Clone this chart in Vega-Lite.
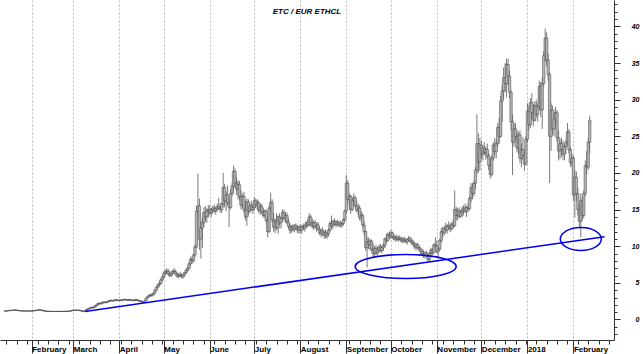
{
"$schema":"https://vega.github.io/schema/vega-lite/v6.json",
"width":614,"height":340,
"autosize":{"type":"none"},
"padding":{"left":0,"top":0,"right":29,"bottom":14},
"background":"white",
"title":{"text":"ETC / EUR ETHCL","fontSize":8,"font":"Liberation Sans","fontStyle":"italic","fontWeight":"bold","color":"#000","anchor":"middle","offset":-16},
"config":{"view":{"stroke":null},"axis":{"labelFont":"Liberation Sans"}},
"datasets":{
"t":[{"d":"2017-03-09","v":1.1},{"d":"2018-02-22","v":11.3}],
"e1":[{"d":"2017-10-11","v":7.24}],
"e2":[{"d":"2018-02-06","v":10.99}],
"p":[
{"d":"2017-01-14","o":1.15,"h":1.2,"l":1.1,"c":1.15},
{"d":"2017-01-15","o":1.15,"h":1.2,"l":1.12,"c":1.17},
{"d":"2017-01-16","o":1.17,"h":1.22,"l":1.14,"c":1.2},
{"d":"2017-01-17","o":1.2,"h":1.28,"l":1.18,"c":1.25},
{"d":"2017-01-18","o":1.25,"h":1.3,"l":1.2,"c":1.22},
{"d":"2017-01-19","o":1.22,"h":1.28,"l":1.18,"c":1.26},
{"d":"2017-01-20","o":1.26,"h":1.33,"l":1.22,"c":1.3},
{"d":"2017-01-21","o":1.3,"h":1.35,"l":1.25,"c":1.28},
{"d":"2017-01-22","o":1.28,"h":1.32,"l":1.22,"c":1.24},
{"d":"2017-01-23","o":1.24,"h":1.28,"l":1.18,"c":1.2},
{"d":"2017-01-24","o":1.2,"h":1.24,"l":1.15,"c":1.18},
{"d":"2017-01-25","o":1.18,"h":1.22,"l":1.14,"c":1.17},
{"d":"2017-01-26","o":1.17,"h":1.2,"l":1.13,"c":1.16},
{"d":"2017-01-27","o":1.16,"h":1.2,"l":1.12,"c":1.15},
{"d":"2017-01-28","o":1.15,"h":1.19,"l":1.12,"c":1.16},
{"d":"2017-01-29","o":1.16,"h":1.2,"l":1.13,"c":1.17},
{"d":"2017-01-30","o":1.17,"h":1.2,"l":1.13,"c":1.15},
{"d":"2017-01-31","o":1.15,"h":1.19,"l":1.12,"c":1.16},
{"d":"2017-02-01","o":1.16,"h":1.2,"l":1.13,"c":1.17},
{"d":"2017-02-02","o":1.17,"h":1.21,"l":1.14,"c":1.18},
{"d":"2017-02-03","o":1.18,"h":1.24,"l":1.16,"c":1.22},
{"d":"2017-02-04","o":1.22,"h":1.28,"l":1.2,"c":1.26},
{"d":"2017-02-05","o":1.26,"h":1.32,"l":1.22,"c":1.3},
{"d":"2017-02-06","o":1.3,"h":1.36,"l":1.26,"c":1.32},
{"d":"2017-02-07","o":1.32,"h":1.36,"l":1.24,"c":1.27},
{"d":"2017-02-08","o":1.27,"h":1.3,"l":1.2,"c":1.22},
{"d":"2017-02-09","o":1.22,"h":1.25,"l":1.15,"c":1.17},
{"d":"2017-02-10","o":1.17,"h":1.2,"l":1.12,"c":1.14},
{"d":"2017-02-11","o":1.14,"h":1.17,"l":1.1,"c":1.12},
{"d":"2017-02-12","o":1.12,"h":1.15,"l":1.09,"c":1.11},
{"d":"2017-02-13","o":1.11,"h":1.14,"l":1.08,"c":1.1},
{"d":"2017-02-14","o":1.1,"h":1.14,"l":1.07,"c":1.12},
{"d":"2017-02-15","o":1.12,"h":1.15,"l":1.08,"c":1.1},
{"d":"2017-02-16","o":1.1,"h":1.13,"l":1.07,"c":1.09},
{"d":"2017-02-17","o":1.09,"h":1.12,"l":1.06,"c":1.1},
{"d":"2017-02-18","o":1.1,"h":1.13,"l":1.07,"c":1.11},
{"d":"2017-02-19","o":1.11,"h":1.14,"l":1.08,"c":1.1},
{"d":"2017-02-20","o":1.1,"h":1.13,"l":1.07,"c":1.09},
{"d":"2017-02-21","o":1.09,"h":1.12,"l":1.06,"c":1.1},
{"d":"2017-02-22","o":1.1,"h":1.13,"l":1.07,"c":1.11},
{"d":"2017-02-23","o":1.11,"h":1.14,"l":1.08,"c":1.12},
{"d":"2017-02-24","o":1.12,"h":1.15,"l":1.09,"c":1.11},
{"d":"2017-02-25","o":1.11,"h":1.14,"l":1.08,"c":1.12},
{"d":"2017-02-26","o":1.12,"h":1.16,"l":1.1,"c":1.14},
{"d":"2017-02-27","o":1.14,"h":1.2,"l":1.12,"c":1.18},
{"d":"2017-02-28","o":1.18,"h":1.25,"l":1.15,"c":1.22},
{"d":"2017-03-01","o":1.22,"h":1.3,"l":1.18,"c":1.26},
{"d":"2017-03-02","o":1.26,"h":1.32,"l":1.22,"c":1.28},
{"d":"2017-03-03","o":1.28,"h":1.33,"l":1.22,"c":1.25},
{"d":"2017-03-04","o":1.25,"h":1.3,"l":1.2,"c":1.27},
{"d":"2017-03-05","o":1.27,"h":1.32,"l":1.22,"c":1.24},
{"d":"2017-03-06","o":1.24,"h":1.28,"l":1.15,"c":1.18},
{"d":"2017-03-07","o":1.18,"h":1.22,"l":1.08,"c":1.12},
{"d":"2017-03-08","o":1.12,"h":1.16,"l":1.02,"c":1.08},
{"d":"2017-03-09","o":1.08,"h":1.25,"l":1.05,"c":1.22},
{"d":"2017-03-10","o":1.22,"h":1.4,"l":1.2,"c":1.36},
{"d":"2017-03-11","o":1.36,"h":1.52,"l":1.32,"c":1.48},
{"d":"2017-03-12","o":1.48,"h":1.62,"l":1.4,"c":1.55},
{"d":"2017-03-13","o":1.55,"h":1.72,"l":1.5,"c":1.66},
{"d":"2017-03-14","o":1.66,"h":1.75,"l":1.52,"c":1.6},
{"d":"2017-03-15","o":1.6,"h":1.78,"l":1.55,"c":1.74},
{"d":"2017-03-16","o":1.74,"h":1.95,"l":1.7,"c":1.9},
{"d":"2017-03-17","o":1.9,"h":2.15,"l":1.85,"c":2.1},
{"d":"2017-03-18","o":2.1,"h":2.3,"l":1.95,"c":2.2},
{"d":"2017-03-19","o":2.2,"h":2.35,"l":2.05,"c":2.15},
{"d":"2017-03-20","o":2.15,"h":2.3,"l":2.05,"c":2.25},
{"d":"2017-03-21","o":2.25,"h":2.45,"l":2.18,"c":2.38},
{"d":"2017-03-22","o":2.38,"h":2.5,"l":2.25,"c":2.3},
{"d":"2017-03-23","o":2.3,"h":2.42,"l":2.2,"c":2.36},
{"d":"2017-03-24","o":2.36,"h":2.5,"l":2.28,"c":2.45},
{"d":"2017-03-25","o":2.45,"h":2.62,"l":2.38,"c":2.55},
{"d":"2017-03-26","o":2.55,"h":2.7,"l":2.45,"c":2.6},
{"d":"2017-03-27","o":2.6,"h":2.72,"l":2.48,"c":2.52},
{"d":"2017-03-28","o":2.52,"h":2.65,"l":2.42,"c":2.58},
{"d":"2017-03-29","o":2.58,"h":2.75,"l":2.5,"c":2.68},
{"d":"2017-03-30","o":2.68,"h":2.8,"l":2.55,"c":2.62},
{"d":"2017-03-31","o":2.62,"h":2.75,"l":2.5,"c":2.58},
{"d":"2017-04-01","o":2.58,"h":2.72,"l":2.5,"c":2.65},
{"d":"2017-04-02","o":2.65,"h":2.78,"l":2.55,"c":2.6},
{"d":"2017-04-03","o":2.6,"h":2.72,"l":2.5,"c":2.68},
{"d":"2017-04-04","o":2.68,"h":2.8,"l":2.6,"c":2.74},
{"d":"2017-04-05","o":2.74,"h":2.85,"l":2.62,"c":2.7},
{"d":"2017-04-06","o":2.7,"h":2.8,"l":2.58,"c":2.64},
{"d":"2017-04-07","o":2.64,"h":2.76,"l":2.55,"c":2.7},
{"d":"2017-04-08","o":2.7,"h":2.82,"l":2.6,"c":2.66},
{"d":"2017-04-09","o":2.66,"h":2.76,"l":2.55,"c":2.62},
{"d":"2017-04-10","o":2.62,"h":2.72,"l":2.5,"c":2.58},
{"d":"2017-04-11","o":2.58,"h":2.7,"l":2.48,"c":2.65},
{"d":"2017-04-12","o":2.65,"h":2.78,"l":2.55,"c":2.7},
{"d":"2017-04-13","o":2.7,"h":2.8,"l":2.55,"c":2.6},
{"d":"2017-04-14","o":2.6,"h":2.7,"l":2.45,"c":2.52},
{"d":"2017-04-15","o":2.52,"h":2.62,"l":2.4,"c":2.48},
{"d":"2017-04-16","o":2.48,"h":2.58,"l":2.32,"c":2.4},
{"d":"2017-04-17","o":2.4,"h":2.5,"l":2.25,"c":2.35},
{"d":"2017-04-18","o":2.35,"h":2.6,"l":2.3,"c":2.55},
{"d":"2017-04-19","o":2.55,"h":2.95,"l":2.5,"c":2.9},
{"d":"2017-04-20","o":2.9,"h":3.2,"l":2.85,"c":3.1},
{"d":"2017-04-21","o":3.1,"h":3.4,"l":3.0,"c":3.3},
{"d":"2017-04-22","o":3.3,"h":3.55,"l":3.15,"c":3.25},
{"d":"2017-04-23","o":3.25,"h":3.45,"l":3.1,"c":3.4},
{"d":"2017-04-24","o":3.4,"h":3.7,"l":3.3,"c":3.6},
{"d":"2017-04-25","o":3.6,"h":4.1,"l":3.5,"c":4.0},
{"d":"2017-04-26","o":4.0,"h":4.5,"l":3.9,"c":4.4},
{"d":"2017-04-27","o":4.4,"h":4.9,"l":4.2,"c":4.7},
{"d":"2017-04-28","o":4.7,"h":5.2,"l":4.5,"c":4.9},
{"d":"2017-04-29","o":4.9,"h":5.6,"l":4.8,"c":5.4},
{"d":"2017-04-30","o":5.4,"h":6.0,"l":5.2,"c":5.8},
{"d":"2017-05-01","o":5.8,"h":6.6,"l":5.6,"c":6.3},
{"d":"2017-05-02","o":6.3,"h":6.8,"l":6.0,"c":6.5},
{"d":"2017-05-03","o":6.5,"h":7.0,"l":6.2,"c":6.6},
{"d":"2017-05-04","o":6.6,"h":6.9,"l":6.0,"c":6.2},
{"d":"2017-05-05","o":6.2,"h":6.6,"l":5.8,"c":6.0},
{"d":"2017-05-06","o":6.0,"h":6.5,"l":5.8,"c":6.3},
{"d":"2017-05-07","o":6.3,"h":6.8,"l":6.1,"c":6.6},
{"d":"2017-05-08","o":6.6,"h":7.0,"l":6.3,"c":6.5},
{"d":"2017-05-09","o":6.5,"h":6.8,"l":6.0,"c":6.2},
{"d":"2017-05-10","o":6.2,"h":6.4,"l":5.7,"c":5.9},
{"d":"2017-05-11","o":5.9,"h":6.3,"l":5.6,"c":6.1},
{"d":"2017-05-12","o":6.1,"h":6.5,"l":5.8,"c":6.0},
{"d":"2017-05-13","o":6.0,"h":6.3,"l":5.6,"c":5.8},
{"d":"2017-05-14","o":5.8,"h":6.2,"l":5.6,"c":6.1},
{"d":"2017-05-15","o":6.1,"h":6.5,"l":5.9,"c":6.4},
{"d":"2017-05-16","o":6.4,"h":6.9,"l":6.2,"c":6.7},
{"d":"2017-05-17","o":6.7,"h":7.2,"l":6.5,"c":7.0},
{"d":"2017-05-18","o":7.0,"h":7.8,"l":6.8,"c":7.6},
{"d":"2017-05-19","o":7.6,"h":8.5,"l":7.3,"c":8.2},
{"d":"2017-05-20","o":8.2,"h":8.6,"l":7.6,"c":8.0},
{"d":"2017-05-21","o":8.0,"h":9.0,"l":7.8,"c":8.8},
{"d":"2017-05-22","o":8.8,"h":10.2,"l":8.5,"c":9.9},
{"d":"2017-05-23","o":9.9,"h":15.5,"l":9.7,"c":14.8},
{"d":"2017-05-24","o":14.8,"h":19.9,"l":13.8,"c":15.5},
{"d":"2017-05-25","o":15.5,"h":16.5,"l":9.5,"c":11.0},
{"d":"2017-05-26","o":11.0,"h":13.5,"l":8.3,"c":12.5},
{"d":"2017-05-27","o":12.5,"h":14.0,"l":9.8,"c":13.2},
{"d":"2017-05-28","o":13.2,"h":15.3,"l":12.6,"c":14.6},
{"d":"2017-05-29","o":14.6,"h":15.5,"l":13.4,"c":14.0},
{"d":"2017-05-30","o":14.0,"h":15.2,"l":13.2,"c":14.8},
{"d":"2017-05-31","o":14.8,"h":15.6,"l":13.9,"c":15.0},
{"d":"2017-06-01","o":15.0,"h":15.6,"l":14.2,"c":14.6},
{"d":"2017-06-02","o":14.6,"h":15.2,"l":14.0,"c":14.9},
{"d":"2017-06-03","o":14.9,"h":15.5,"l":14.4,"c":15.2},
{"d":"2017-06-04","o":15.2,"h":15.7,"l":14.6,"c":14.8},
{"d":"2017-06-05","o":14.8,"h":15.4,"l":14.3,"c":15.1},
{"d":"2017-06-06","o":15.1,"h":15.8,"l":14.7,"c":15.4},
{"d":"2017-06-07","o":15.4,"h":16.6,"l":15.0,"c":15.2},
{"d":"2017-06-08","o":15.2,"h":15.8,"l":14.6,"c":15.0},
{"d":"2017-06-09","o":15.0,"h":16.0,"l":14.5,"c":15.8},
{"d":"2017-06-10","o":15.8,"h":20.0,"l":15.3,"c":18.0},
{"d":"2017-06-11","o":18.0,"h":18.5,"l":15.3,"c":16.2},
{"d":"2017-06-12","o":16.2,"h":17.5,"l":14.8,"c":17.0},
{"d":"2017-06-13","o":17.0,"h":18.3,"l":15.6,"c":15.9},
{"d":"2017-06-14","o":15.9,"h":16.5,"l":12.6,"c":15.3},
{"d":"2017-06-15","o":15.3,"h":17.8,"l":15.0,"c":17.2},
{"d":"2017-06-16","o":17.2,"h":18.6,"l":16.8,"c":18.2},
{"d":"2017-06-17","o":18.2,"h":21.0,"l":17.2,"c":20.2},
{"d":"2017-06-18","o":20.2,"h":20.6,"l":18.0,"c":18.6},
{"d":"2017-06-19","o":18.6,"h":19.4,"l":17.0,"c":17.8},
{"d":"2017-06-20","o":17.8,"h":19.0,"l":16.4,"c":18.4},
{"d":"2017-06-21","o":18.4,"h":18.9,"l":16.2,"c":16.8},
{"d":"2017-06-22","o":16.8,"h":17.6,"l":15.0,"c":15.6},
{"d":"2017-06-23","o":15.6,"h":17.2,"l":15.2,"c":16.8},
{"d":"2017-06-24","o":16.8,"h":17.4,"l":14.6,"c":15.0},
{"d":"2017-06-25","o":15.0,"h":16.2,"l":13.5,"c":14.0},
{"d":"2017-06-26","o":14.0,"h":16.5,"l":12.8,"c":16.0},
{"d":"2017-06-27","o":16.0,"h":16.4,"l":14.2,"c":14.8},
{"d":"2017-06-28","o":14.8,"h":15.8,"l":14.5,"c":15.5},
{"d":"2017-06-29","o":15.5,"h":16.2,"l":14.8,"c":15.0},
{"d":"2017-06-30","o":15.0,"h":15.8,"l":14.4,"c":15.3},
{"d":"2017-07-01","o":15.3,"h":16.7,"l":14.8,"c":16.2},
{"d":"2017-07-02","o":16.2,"h":16.5,"l":15.2,"c":15.6},
{"d":"2017-07-03","o":15.6,"h":16.4,"l":14.9,"c":15.9},
{"d":"2017-07-04","o":15.9,"h":16.2,"l":14.5,"c":14.9},
{"d":"2017-07-05","o":14.9,"h":15.8,"l":14.3,"c":15.4},
{"d":"2017-07-06","o":15.4,"h":15.8,"l":14.4,"c":14.7},
{"d":"2017-07-07","o":14.7,"h":15.2,"l":13.9,"c":14.2},
{"d":"2017-07-08","o":14.2,"h":15.0,"l":13.9,"c":14.8},
{"d":"2017-07-09","o":14.8,"h":15.0,"l":13.2,"c":13.5},
{"d":"2017-07-10","o":13.5,"h":14.0,"l":11.2,"c":12.0},
{"d":"2017-07-11","o":12.0,"h":15.5,"l":11.8,"c":15.2},
{"d":"2017-07-12","o":15.2,"h":17.3,"l":14.8,"c":16.0},
{"d":"2017-07-13","o":16.0,"h":16.4,"l":13.2,"c":13.6},
{"d":"2017-07-14","o":13.6,"h":14.6,"l":12.0,"c":12.6},
{"d":"2017-07-15","o":12.6,"h":13.8,"l":11.8,"c":13.4},
{"d":"2017-07-16","o":13.4,"h":14.5,"l":12.2,"c":12.5},
{"d":"2017-07-17","o":12.5,"h":14.2,"l":11.7,"c":14.0},
{"d":"2017-07-18","o":14.0,"h":14.5,"l":12.8,"c":13.2},
{"d":"2017-07-19","o":13.2,"h":14.0,"l":12.4,"c":13.8},
{"d":"2017-07-20","o":13.8,"h":15.0,"l":13.4,"c":14.6},
{"d":"2017-07-21","o":14.6,"h":15.0,"l":13.4,"c":13.8},
{"d":"2017-07-22","o":13.8,"h":14.6,"l":13.2,"c":14.2},
{"d":"2017-07-23","o":14.2,"h":14.6,"l":13.0,"c":13.3},
{"d":"2017-07-24","o":13.3,"h":13.8,"l":12.4,"c":12.7},
{"d":"2017-07-25","o":12.7,"h":13.1,"l":11.7,"c":12.2},
{"d":"2017-07-26","o":12.2,"h":12.9,"l":11.8,"c":12.6},
{"d":"2017-07-27","o":12.6,"h":13.0,"l":12.0,"c":12.3},
{"d":"2017-07-28","o":12.3,"h":13.0,"l":11.9,"c":12.8},
{"d":"2017-07-29","o":12.8,"h":13.1,"l":12.2,"c":12.5},
{"d":"2017-07-30","o":12.5,"h":12.9,"l":11.8,"c":12.2},
{"d":"2017-07-31","o":12.2,"h":12.8,"l":11.7,"c":12.6},
{"d":"2017-08-01","o":12.6,"h":13.0,"l":11.8,"c":12.2},
{"d":"2017-08-02","o":12.2,"h":12.9,"l":11.7,"c":12.7},
{"d":"2017-08-03","o":12.7,"h":13.1,"l":12.2,"c":12.5},
{"d":"2017-08-04","o":12.5,"h":13.0,"l":12.0,"c":12.8},
{"d":"2017-08-05","o":12.8,"h":13.4,"l":12.4,"c":13.2},
{"d":"2017-08-06","o":13.2,"h":13.6,"l":12.6,"c":12.9},
{"d":"2017-08-07","o":12.9,"h":14.5,"l":12.7,"c":14.0},
{"d":"2017-08-08","o":14.0,"h":14.3,"l":12.8,"c":13.2},
{"d":"2017-08-09","o":13.2,"h":13.7,"l":12.4,"c":12.7},
{"d":"2017-08-10","o":12.7,"h":13.5,"l":12.2,"c":13.2},
{"d":"2017-08-11","o":13.2,"h":13.6,"l":12.4,"c":12.6},
{"d":"2017-08-12","o":12.6,"h":13.2,"l":12.0,"c":12.9},
{"d":"2017-08-13","o":12.9,"h":13.3,"l":12.1,"c":12.3},
{"d":"2017-08-14","o":12.3,"h":12.7,"l":11.5,"c":11.8},
{"d":"2017-08-15","o":11.8,"h":12.4,"l":11.2,"c":12.1},
{"d":"2017-08-16","o":12.1,"h":12.6,"l":11.4,"c":11.6},
{"d":"2017-08-17","o":11.6,"h":12.2,"l":11.0,"c":11.9},
{"d":"2017-08-18","o":11.9,"h":12.3,"l":11.1,"c":11.4},
{"d":"2017-08-19","o":11.4,"h":12.0,"l":11.0,"c":11.7},
{"d":"2017-08-20","o":11.7,"h":12.4,"l":11.3,"c":12.2},
{"d":"2017-08-21","o":12.2,"h":13.4,"l":12.0,"c":13.1},
{"d":"2017-08-22","o":13.1,"h":14.2,"l":12.4,"c":12.8},
{"d":"2017-08-23","o":12.8,"h":13.6,"l":12.3,"c":13.4},
{"d":"2017-08-24","o":13.4,"h":13.8,"l":12.8,"c":13.0},
{"d":"2017-08-25","o":13.0,"h":13.5,"l":12.6,"c":13.3},
{"d":"2017-08-26","o":13.3,"h":13.6,"l":12.7,"c":12.9},
{"d":"2017-08-27","o":12.9,"h":13.4,"l":12.6,"c":13.2},
{"d":"2017-08-28","o":13.2,"h":13.5,"l":12.6,"c":12.9},
{"d":"2017-08-29","o":12.9,"h":13.3,"l":12.5,"c":13.1},
{"d":"2017-08-30","o":13.1,"h":13.8,"l":12.8,"c":13.6},
{"d":"2017-08-31","o":13.6,"h":15.0,"l":13.4,"c":14.8},
{"d":"2017-09-01","o":14.8,"h":19.7,"l":14.5,"c":18.6},
{"d":"2017-09-02","o":18.6,"h":19.0,"l":15.8,"c":16.4},
{"d":"2017-09-03","o":16.4,"h":17.2,"l":15.0,"c":16.8},
{"d":"2017-09-04","o":16.8,"h":17.0,"l":14.4,"c":15.0},
{"d":"2017-09-05","o":15.0,"h":16.6,"l":14.8,"c":16.2},
{"d":"2017-09-06","o":16.2,"h":17.2,"l":15.6,"c":16.6},
{"d":"2017-09-07","o":16.6,"h":16.9,"l":15.2,"c":15.5},
{"d":"2017-09-08","o":15.5,"h":16.2,"l":14.6,"c":14.9},
{"d":"2017-09-09","o":14.9,"h":15.8,"l":14.2,"c":15.2},
{"d":"2017-09-10","o":15.2,"h":15.6,"l":13.5,"c":13.9},
{"d":"2017-09-11","o":13.9,"h":14.8,"l":13.4,"c":14.2},
{"d":"2017-09-12","o":14.2,"h":14.5,"l":12.6,"c":12.9},
{"d":"2017-09-13","o":12.9,"h":13.4,"l":11.6,"c":12.0},
{"d":"2017-09-14","o":12.0,"h":12.2,"l":9.4,"c":9.8},
{"d":"2017-09-15","o":9.8,"h":11.2,"l":7.1,"c":10.6},
{"d":"2017-09-16","o":10.6,"h":11.2,"l":9.6,"c":10.2},
{"d":"2017-09-17","o":10.2,"h":11.0,"l":9.4,"c":10.7},
{"d":"2017-09-18","o":10.7,"h":10.9,"l":9.3,"c":9.6},
{"d":"2017-09-19","o":9.6,"h":10.4,"l":8.5,"c":9.0},
{"d":"2017-09-20","o":9.0,"h":10.0,"l":8.6,"c":9.7},
{"d":"2017-09-21","o":9.7,"h":10.2,"l":8.8,"c":9.1},
{"d":"2017-09-22","o":9.1,"h":9.9,"l":8.7,"c":9.5},
{"d":"2017-09-23","o":9.5,"h":10.2,"l":9.1,"c":9.9},
{"d":"2017-09-24","o":9.9,"h":10.3,"l":9.2,"c":9.4},
{"d":"2017-09-25","o":9.4,"h":10.1,"l":9.0,"c":9.8},
{"d":"2017-09-26","o":9.8,"h":10.4,"l":9.4,"c":10.1},
{"d":"2017-09-27","o":10.1,"h":11.2,"l":9.8,"c":11.0},
{"d":"2017-09-28","o":11.0,"h":11.7,"l":10.4,"c":10.8},
{"d":"2017-09-29","o":10.8,"h":11.9,"l":10.6,"c":11.6},
{"d":"2017-09-30","o":11.6,"h":12.0,"l":11.0,"c":11.4},
{"d":"2017-10-01","o":11.4,"h":12.2,"l":11.0,"c":11.8},
{"d":"2017-10-02","o":11.8,"h":12.0,"l":11.1,"c":11.3},
{"d":"2017-10-03","o":11.3,"h":11.7,"l":10.8,"c":11.0},
{"d":"2017-10-04","o":11.0,"h":11.5,"l":10.6,"c":11.2},
{"d":"2017-10-05","o":11.2,"h":11.6,"l":10.7,"c":10.9},
{"d":"2017-10-06","o":10.9,"h":11.4,"l":10.6,"c":11.1},
{"d":"2017-10-07","o":11.1,"h":11.5,"l":10.8,"c":11.0},
{"d":"2017-10-08","o":11.0,"h":11.3,"l":10.5,"c":10.7},
{"d":"2017-10-09","o":10.7,"h":11.2,"l":10.4,"c":11.0},
{"d":"2017-10-10","o":11.0,"h":11.3,"l":10.5,"c":10.8},
{"d":"2017-10-11","o":10.8,"h":11.1,"l":10.4,"c":10.6},
{"d":"2017-10-12","o":10.6,"h":11.0,"l":10.2,"c":10.9},
{"d":"2017-10-13","o":10.9,"h":11.4,"l":10.6,"c":11.1},
{"d":"2017-10-14","o":11.1,"h":11.3,"l":10.5,"c":10.7},
{"d":"2017-10-15","o":10.7,"h":11.0,"l":10.2,"c":10.5},
{"d":"2017-10-16","o":10.5,"h":10.9,"l":10.0,"c":10.3},
{"d":"2017-10-17","o":10.3,"h":10.6,"l":9.6,"c":9.9},
{"d":"2017-10-18","o":9.9,"h":10.4,"l":9.4,"c":10.2},
{"d":"2017-10-19","o":10.2,"h":10.5,"l":9.6,"c":9.8},
{"d":"2017-10-20","o":9.8,"h":10.2,"l":9.3,"c":9.6},
{"d":"2017-10-21","o":9.6,"h":9.9,"l":9.0,"c":9.3},
{"d":"2017-10-22","o":9.3,"h":9.7,"l":8.8,"c":9.0},
{"d":"2017-10-23","o":9.0,"h":9.5,"l":8.4,"c":8.7},
{"d":"2017-10-24","o":8.7,"h":9.3,"l":8.3,"c":9.1},
{"d":"2017-10-25","o":9.1,"h":9.4,"l":8.5,"c":8.7},
{"d":"2017-10-26","o":8.7,"h":9.0,"l":7.8,"c":8.2},
{"d":"2017-10-27","o":8.2,"h":9.2,"l":8.0,"c":9.0},
{"d":"2017-10-28","o":9.0,"h":9.8,"l":8.6,"c":9.5},
{"d":"2017-10-29","o":9.5,"h":9.8,"l":8.8,"c":9.1},
{"d":"2017-10-30","o":9.1,"h":10.4,"l":9.0,"c":10.2},
{"d":"2017-10-31","o":10.2,"h":11.2,"l":9.8,"c":10.0},
{"d":"2017-11-01","o":10.0,"h":10.8,"l":9.0,"c":9.3},
{"d":"2017-11-02","o":9.3,"h":9.8,"l":8.3,"c":9.6},
{"d":"2017-11-03","o":9.6,"h":11.0,"l":9.5,"c":10.8},
{"d":"2017-11-04","o":10.8,"h":12.5,"l":10.5,"c":12.0},
{"d":"2017-11-05","o":12.0,"h":12.6,"l":11.2,"c":11.8},
{"d":"2017-11-06","o":11.8,"h":12.8,"l":11.5,"c":12.5},
{"d":"2017-11-07","o":12.5,"h":13.2,"l":11.9,"c":12.2},
{"d":"2017-11-08","o":12.2,"h":13.0,"l":11.7,"c":12.8},
{"d":"2017-11-09","o":12.8,"h":13.4,"l":12.2,"c":12.6},
{"d":"2017-11-10","o":12.6,"h":13.1,"l":11.9,"c":12.4},
{"d":"2017-11-11","o":12.4,"h":13.3,"l":12.1,"c":13.0},
{"d":"2017-11-12","o":13.0,"h":13.6,"l":12.4,"c":12.8},
{"d":"2017-11-13","o":12.8,"h":17.6,"l":12.6,"c":15.0},
{"d":"2017-11-14","o":15.0,"h":15.4,"l":13.6,"c":14.2},
{"d":"2017-11-15","o":14.2,"h":15.2,"l":13.5,"c":14.8},
{"d":"2017-11-16","o":14.8,"h":15.3,"l":13.8,"c":14.1},
{"d":"2017-11-17","o":14.1,"h":15.0,"l":13.9,"c":14.6},
{"d":"2017-11-18","o":14.6,"h":15.4,"l":14.0,"c":14.9},
{"d":"2017-11-19","o":14.9,"h":15.6,"l":14.2,"c":15.2},
{"d":"2017-11-20","o":15.2,"h":15.8,"l":14.5,"c":14.8},
{"d":"2017-11-21","o":14.8,"h":15.5,"l":14.0,"c":15.3},
{"d":"2017-11-22","o":15.3,"h":15.9,"l":14.6,"c":15.1},
{"d":"2017-11-23","o":15.1,"h":16.8,"l":14.9,"c":16.5},
{"d":"2017-11-24","o":16.5,"h":18.6,"l":16.0,"c":18.0},
{"d":"2017-11-25","o":18.0,"h":18.6,"l":16.4,"c":17.2},
{"d":"2017-11-26","o":17.2,"h":19.0,"l":16.8,"c":18.6},
{"d":"2017-11-27","o":18.6,"h":20.8,"l":17.8,"c":20.4},
{"d":"2017-11-28","o":20.4,"h":28.0,"l":19.9,"c":24.0},
{"d":"2017-11-29","o":24.0,"h":25.4,"l":20.0,"c":21.5},
{"d":"2017-11-30","o":21.5,"h":24.8,"l":20.3,"c":23.8},
{"d":"2017-12-01","o":23.8,"h":24.4,"l":22.0,"c":22.6},
{"d":"2017-12-02","o":22.6,"h":23.8,"l":21.7,"c":23.4},
{"d":"2017-12-03","o":23.4,"h":24.2,"l":22.4,"c":22.8},
{"d":"2017-12-04","o":22.8,"h":23.6,"l":21.8,"c":23.2},
{"d":"2017-12-05","o":23.2,"h":24.0,"l":22.0,"c":22.3},
{"d":"2017-12-06","o":22.3,"h":22.7,"l":20.4,"c":21.0},
{"d":"2017-12-07","o":21.0,"h":22.0,"l":19.2,"c":19.8},
{"d":"2017-12-08","o":19.8,"h":22.4,"l":19.5,"c":22.0},
{"d":"2017-12-09","o":22.0,"h":24.2,"l":21.7,"c":23.8},
{"d":"2017-12-10","o":23.8,"h":24.8,"l":22.4,"c":22.9},
{"d":"2017-12-11","o":22.9,"h":24.5,"l":22.0,"c":24.0},
{"d":"2017-12-12","o":24.0,"h":26.8,"l":23.5,"c":26.2},
{"d":"2017-12-13","o":26.2,"h":27.5,"l":24.0,"c":25.0},
{"d":"2017-12-14","o":25.0,"h":30.5,"l":24.8,"c":29.8},
{"d":"2017-12-15","o":29.8,"h":32.0,"l":27.0,"c":31.2},
{"d":"2017-12-16","o":31.2,"h":34.4,"l":30.0,"c":33.0},
{"d":"2017-12-17","o":33.0,"h":35.0,"l":31.0,"c":32.2},
{"d":"2017-12-18","o":32.2,"h":35.6,"l":30.3,"c":34.8},
{"d":"2017-12-19","o":34.8,"h":35.6,"l":32.0,"c":33.2},
{"d":"2017-12-20","o":33.2,"h":34.0,"l":30.2,"c":31.0},
{"d":"2017-12-21","o":31.0,"h":31.3,"l":25.8,"c":27.0},
{"d":"2017-12-22","o":27.0,"h":28.0,"l":19.7,"c":24.2},
{"d":"2017-12-23","o":24.2,"h":26.8,"l":23.6,"c":26.0},
{"d":"2017-12-24","o":26.0,"h":26.8,"l":24.4,"c":25.0},
{"d":"2017-12-25","o":25.0,"h":25.8,"l":22.8,"c":23.4},
{"d":"2017-12-26","o":23.4,"h":25.6,"l":22.6,"c":25.2},
{"d":"2017-12-27","o":25.2,"h":25.8,"l":21.3,"c":22.0},
{"d":"2017-12-28","o":22.0,"h":24.0,"l":20.8,"c":23.2},
{"d":"2017-12-29","o":23.2,"h":24.9,"l":21.8,"c":22.4},
{"d":"2017-12-30","o":22.4,"h":23.0,"l":20.3,"c":21.2},
{"d":"2017-12-31","o":21.2,"h":25.0,"l":21.0,"c":24.6},
{"d":"2018-01-01","o":24.6,"h":29.5,"l":24.2,"c":28.4},
{"d":"2018-01-02","o":28.4,"h":29.2,"l":25.8,"c":26.6},
{"d":"2018-01-03","o":26.6,"h":30.2,"l":26.2,"c":29.6},
{"d":"2018-01-04","o":29.6,"h":30.9,"l":27.4,"c":28.2},
{"d":"2018-01-05","o":28.2,"h":29.4,"l":26.4,"c":27.2},
{"d":"2018-01-06","o":27.2,"h":29.8,"l":27.0,"c":29.2},
{"d":"2018-01-07","o":29.2,"h":30.0,"l":27.6,"c":28.0},
{"d":"2018-01-08","o":28.0,"h":29.6,"l":27.0,"c":29.0},
{"d":"2018-01-09","o":29.0,"h":32.6,"l":28.6,"c":31.8},
{"d":"2018-01-10","o":31.8,"h":32.4,"l":27.6,"c":28.6},
{"d":"2018-01-11","o":28.6,"h":33.0,"l":26.0,"c":32.2},
{"d":"2018-01-12","o":32.2,"h":36.6,"l":31.8,"c":36.0},
{"d":"2018-01-13","o":36.0,"h":39.7,"l":35.2,"c":38.4},
{"d":"2018-01-14","o":38.4,"h":39.2,"l":34.6,"c":35.4},
{"d":"2018-01-15","o":35.4,"h":36.3,"l":32.6,"c":33.4},
{"d":"2018-01-16","o":33.4,"h":33.8,"l":18.6,"c":25.0},
{"d":"2018-01-17","o":25.0,"h":29.5,"l":23.0,"c":28.6},
{"d":"2018-01-18","o":28.6,"h":29.2,"l":25.2,"c":26.0},
{"d":"2018-01-19","o":26.0,"h":28.4,"l":25.0,"c":27.4},
{"d":"2018-01-20","o":27.4,"h":29.0,"l":26.4,"c":28.2},
{"d":"2018-01-21","o":28.2,"h":28.6,"l":24.2,"c":24.8},
{"d":"2018-01-22","o":24.8,"h":25.8,"l":21.7,"c":23.0},
{"d":"2018-01-23","o":23.0,"h":24.6,"l":21.9,"c":24.0},
{"d":"2018-01-24","o":24.0,"h":24.8,"l":22.2,"c":23.2},
{"d":"2018-01-25","o":23.2,"h":24.4,"l":21.7,"c":22.6},
{"d":"2018-01-26","o":22.6,"h":24.0,"l":21.8,"c":23.6},
{"d":"2018-01-27","o":23.6,"h":24.5,"l":22.6,"c":24.2},
{"d":"2018-01-28","o":24.2,"h":26.8,"l":23.8,"c":25.6},
{"d":"2018-01-29","o":25.6,"h":26.0,"l":22.7,"c":23.2},
{"d":"2018-01-30","o":23.2,"h":23.5,"l":20.8,"c":21.4},
{"d":"2018-01-31","o":21.4,"h":22.6,"l":20.9,"c":22.0},
{"d":"2018-02-01","o":22.0,"h":22.4,"l":16.2,"c":17.0},
{"d":"2018-02-02","o":17.0,"h":20.3,"l":13.9,"c":19.4},
{"d":"2018-02-03","o":19.4,"h":20.2,"l":16.2,"c":17.2},
{"d":"2018-02-04","o":17.2,"h":18.0,"l":14.2,"c":15.0},
{"d":"2018-02-05","o":15.0,"h":15.6,"l":12.6,"c":13.4},
{"d":"2018-02-06","o":13.4,"h":17.2,"l":11.2,"c":16.2},
{"d":"2018-02-07","o":16.2,"h":16.7,"l":13.5,"c":14.2},
{"d":"2018-02-08","o":14.2,"h":17.6,"l":13.8,"c":17.2},
{"d":"2018-02-09","o":17.2,"h":21.7,"l":16.8,"c":21.0},
{"d":"2018-02-10","o":21.0,"h":23.0,"l":19.8,"c":20.8},
{"d":"2018-02-11","o":20.8,"h":24.8,"l":20.4,"c":24.2},
{"d":"2018-02-12","o":24.2,"h":27.8,"l":22.7,"c":27.2}
]},
"layer":[
{"data":{"name":"p"},
 "mark":{"type":"rule","color":"#555","strokeWidth":0.8},
 "encoding":{
  "x":{"field":"d","type":"temporal",
   "scale":{"type":"utc","domain":[{"year":2017,"month":1,"date":14,"utc":true},{"year":2018,"month":2,"date":25,"utc":true}]},
   "axis":{"title":null,"orient":"bottom","tickCount":{"interval":"month","step":1},
    "labelExpr":"utcmonth(datum.value)==0 ? utcFormat(datum.value,'%Y') : utcFormat(datum.value,'%B')",
    "labelAlign":"left","labelBaseline":"top","labelDx":2,"labelPadding":-8,"tickSize":13,
    "tickColor":"#333","domainColor":"#333","labelFontSize":8,"labelFontWeight":"bold","labelColor":"#000",
    "grid":true,"gridColor":"#bbb","gridDash":[2,2],"labelFlush":false,"labelOverlap":false,"labelBound":false}},
  "y":{"field":"l","type":"quantitative",
   "scale":{"domain":[-2.8,43.6],"nice":false,"zero":false},
   "axis":{"orient":"right","title":null,"values":[0,5,10,15,20,25,30,35,40],"tickSize":6,"labelAlign":"right","labelPadding":19,
    "labelFontSize":7,"labelFontStyle":"italic","labelFontWeight":"bold","labelColor":"#000","domainColor":"#333","tickColor":"#333","grid":false}},
  "y2":{"field":"h"}}},
{"data":{"name":"p"},
 "mark":{"type":"bar","width":2.4,"fill":"#b4b4b4","stroke":"#444","strokeWidth":0.5},
 "encoding":{
  "x":{"field":"d","type":"temporal",
   "axis":{"title":null,"orient":"bottom","tickCount":{"interval":"week","step":1},"labels":false,"domain":false,"tickSize":4,"tickColor":"#333","grid":false}},
  "y":{"field":"o","type":"quantitative",
   "axis":{"orient":"right","title":null,"values":[-2,-1,0,1,2,3,4,5,6,7,8,9,10,11,12,13,14,15,16,17,18,19,20,21,22,23,24,25,26,27,28,29,30,31,32,33,34,35,36,37,38,39,40,41,42,43],"tickSize":3,"labels":false,"domain":false,"grid":false,"tickColor":"#333"}},
  "y2":{"field":"c"}}},
{"data":{"name":"t"},
 "mark":{"type":"line","color":"#0000ee","strokeWidth":1.5},
 "encoding":{"x":{"field":"d","type":"temporal","axis":null},"y":{"field":"v","type":"quantitative","axis":null}}},
{"data":{"name":"e1"},
 "mark":{"type":"point","shape":"M -1 0 A 1 0.238 0 1 0 1 0 A 1 0.238 0 1 0 -1 0 Z","size":10201,"filled":false,"stroke":"#0000ee","strokeWidth":1.5,"opacity":1},
 "encoding":{"x":{"field":"d","type":"temporal","axis":null},"y":{"field":"v","type":"quantitative","axis":null}}},
{"data":{"name":"e2"},
 "mark":{"type":"point","shape":"M -1 0 A 1 0.56 0 1 0 1 0 A 1 0.56 0 1 0 -1 0 Z","size":1681,"filled":false,"stroke":"#0000ee","strokeWidth":1.5,"opacity":1},
 "encoding":{"x":{"field":"d","type":"temporal","axis":null},"y":{"field":"v","type":"quantitative","axis":null}}}
],
"resolve":{"axis":{"x":"independent","y":"independent"}}
}
